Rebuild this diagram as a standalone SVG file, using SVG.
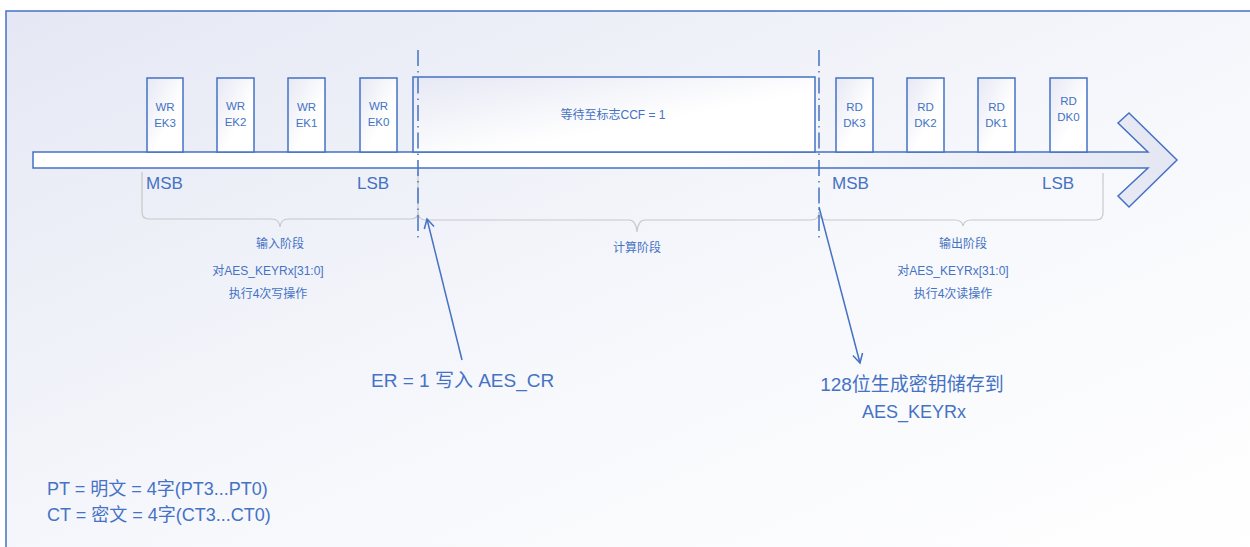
<svg xmlns="http://www.w3.org/2000/svg" width="1250" height="547" viewBox="0 0 1250 547">
<defs>
<linearGradient id="bg" x1="0" y1="0" x2="1" y2="1">
<stop offset="0" stop-color="#e5e8f4"/>
<stop offset="0.55" stop-color="#f7f8fc"/>
<stop offset="1" stop-color="#ffffff"/>
</linearGradient>
<linearGradient id="boxg" x1="0" y1="0" x2="1" y2="1">
<stop offset="0" stop-color="#e6e8f4"/>
<stop offset="0.6" stop-color="#ffffff"/>
<stop offset="1" stop-color="#ffffff"/>
</linearGradient>
<linearGradient id="barg" x1="0" y1="0" x2="1" y2="0">
<stop offset="0" stop-color="#ffffff"/>
<stop offset="0.55" stop-color="#ffffff"/>
<stop offset="1" stop-color="#e4e6f3"/>
</linearGradient>
<marker id="open" markerWidth="12" markerHeight="12" refX="10" refY="6" orient="auto" markerUnits="userSpaceOnUse">
<path d="M1,1 L10,6 L1,11" fill="none" stroke="#4472c4" stroke-width="1.5"/>
</marker>
<style>
.t{font-family:"Liberation Sans","Noto Sans CJK SC",sans-serif;fill:#4472c4;}
.s{font-size:11.5px;}
.m{font-size:12px;}
.l{font-size:17px;}
.xl{font-size:19px;}
.k{font-size:18px;}
.lg{font-size:18px;}
.box{fill:url(#boxg);stroke:#4472c4;stroke-width:1.5;}
.brace{fill:none;stroke:#c8c8c8;stroke-width:1.2;}
.dd{stroke:#4472c4;stroke-width:1.5;stroke-dasharray:16 5 1.5 5;fill:none;}
.arr{stroke:#4472c4;stroke-width:1.5;fill:none;}
</style>
</defs>
<rect x="6" y="11" width="1260" height="550" fill="url(#bg)" stroke="#4472c4" stroke-width="1.5"/>

<g id="timeline">
<path d="M33,152 L1148,152 L1118,123 L1129,113 L1177,160 L1129,207 L1118,196 L1148,168 L33,168 Z" fill="url(#barg)" stroke="#4472c4" stroke-width="1.5"/>
</g>

<g id="wr-ek3"><rect class="box" x="147" y="78" width="36" height="74"/><text class="t s" x="165" y="111" text-anchor="middle">WR</text><text class="t s" x="165" y="127" text-anchor="middle">EK3</text></g>
<g id="wr-ek2"><rect class="box" x="217" y="78" width="37" height="74"/><text class="t s" x="235.5" y="110" text-anchor="middle">WR</text><text class="t s" x="235.5" y="126" text-anchor="middle">EK2</text></g>
<g id="wr-ek1"><rect class="box" x="288" y="78" width="37" height="74"/><text class="t s" x="306.5" y="111" text-anchor="middle">WR</text><text class="t s" x="306.5" y="127" text-anchor="middle">EK1</text></g>
<g id="wr-ek0"><rect class="box" x="360" y="78" width="37" height="74"/><text class="t s" x="378.5" y="110" text-anchor="middle">WR</text><text class="t s" x="378.5" y="126" text-anchor="middle">EK0</text></g>

<g id="wait-ccf"><rect class="box" x="413" y="77" width="402" height="75"/><text class="t m" x="613" y="119" text-anchor="middle">等待至标志CCF = 1</text></g>

<g id="rd-dk3"><rect class="box" x="836" y="78" width="37" height="74"/><text class="t s" x="854.5" y="111" text-anchor="middle">RD</text><text class="t s" x="854.5" y="127" text-anchor="middle">DK3</text></g>
<g id="rd-dk2"><rect class="box" x="907" y="78" width="37" height="74"/><text class="t s" x="925.5" y="111" text-anchor="middle">RD</text><text class="t s" x="925.5" y="127" text-anchor="middle">DK2</text></g>
<g id="rd-dk1"><rect class="box" x="978" y="78" width="37" height="74"/><text class="t s" x="996.5" y="111" text-anchor="middle">RD</text><text class="t s" x="996.5" y="127" text-anchor="middle">DK1</text></g>
<g id="rd-dk0"><rect class="box" x="1050" y="78" width="37" height="74"/><text class="t s" x="1068.5" y="105" text-anchor="middle">RD</text><text class="t s" x="1068.5" y="121" text-anchor="middle">DK0</text></g>

<g id="bit-labels">
<text class="t l" x="146" y="189">MSB</text>
<text class="t l" x="357" y="189">LSB</text>
<text class="t l" x="832" y="189">MSB</text>
<text class="t l" x="1042" y="189">LSB</text>
</g>

<g id="braces">
<path class="brace" d="M142,172 L142,212 Q142,219 149,219 L272,219 Q279,219 280,227 Q281,219 288,219 L411,219 Q418,219 418,212 L418,172"/>
<path class="brace" d="M418,212 Q418,220 426,220 L629,220 Q636,220 637,232 Q638,220 645,220 L811,220 Q819,220 819,212"/>
<path class="brace" d="M819,212 Q819,220 827,220 L955,220 Q962,220 963,226 Q964,220 971,220 L1096,220 Q1103,220 1103,213 L1103,173"/>
</g>

<g id="phase-labels">
<text class="t m" x="280" y="248" text-anchor="middle">输入阶段</text>
<text class="t m" x="268" y="275" text-anchor="middle">对AES_KEYRx[31:0]</text>
<text class="t m" x="268" y="298" text-anchor="middle">执行4次写操作</text>
<text class="t m" x="637" y="252" text-anchor="middle">计算阶段</text>
<text class="t m" x="963" y="248" text-anchor="middle">输出阶段</text>
<text class="t m" x="953" y="275" text-anchor="middle">对AES_KEYRx[31:0]</text>
<text class="t m" x="953" y="298" text-anchor="middle">执行4次读操作</text>
</g>

<g id="connectors">
<line class="dd" x1="418" y1="50" x2="418" y2="238"/>
<line class="dd" x1="819" y1="50" x2="819" y2="238"/>
<line class="arr" x1="462" y1="360" x2="427" y2="219" marker-end="url(#open)"/>
<line class="arr" x1="819" y1="207" x2="860" y2="363" marker-end="url(#open)"/>
</g>

<g id="annotations">
<text class="t xl" x="371" y="387">ER = 1 写入 AES_CR</text>
<text class="t xl" x="912" y="391" text-anchor="middle">128位生成密钥储存到</text>
<text class="t k" x="914" y="418" text-anchor="middle">AES_KEYRx</text>
<text class="t lg" x="47" y="495">PT = 明文 = 4字(PT3...PT0)</text>
<text class="t lg" x="47" y="521">CT = 密文 = 4字(CT3...CT0)</text>
</g>
</svg>
